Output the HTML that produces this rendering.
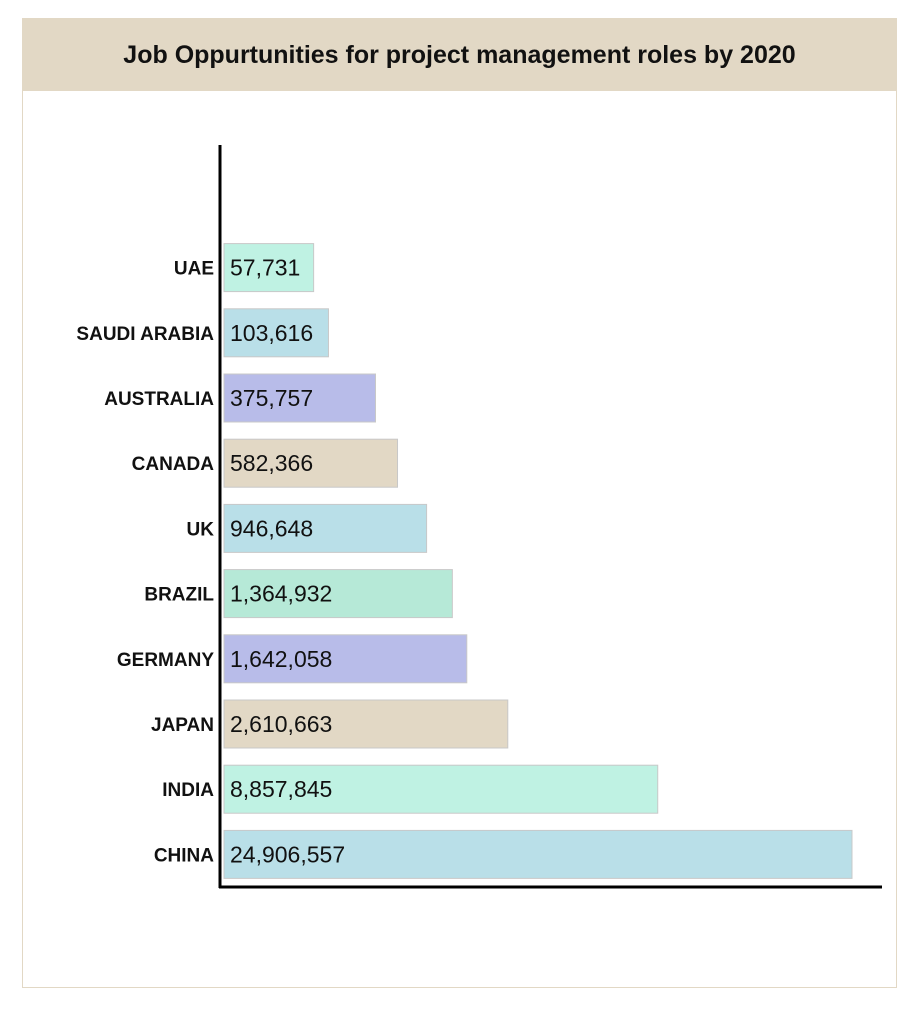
<!DOCTYPE html>
<html><head><meta charset="utf-8"><style>
body{margin:0;background:#fff;font-family:"Liberation Sans",sans-serif}
#card{position:absolute;left:22px;top:18px;width:875px;height:970px;border:1.5px solid #e2d8c5;box-sizing:border-box}
#hdr{position:absolute;left:0;top:0;right:0;height:72px;background:#e2d8c5;display:flex;align-items:center;justify-content:center;font-weight:bold;font-size:25px;color:#111}
</style></head><body>
<div id="card">
<div id="hdr">Job Oppurtunities for project management roles by 2020</div>
</div>
<svg id="chart" width="921" height="1024" style="position:absolute;left:0;top:0"></svg>
<script>
const categories=["UAE","SAUDI ARABIA","AUSTRALIA","CANADA","UK","BRAZIL","GERMANY","JAPAN","INDIA","CHINA"];
const values=[57731,103616,375757,582366,946648,1364932,1642058,2610663,8857845,24906557];
const valueLabels=["57,731","103,616","375,757","582,366","946,648","1,364,932","1,642,058","2,610,663","8,857,845","24,906,557"];
const colors=["#bff2e3","#b9dfe8","#b8bce9","#e2d8c5","#b9dfe8","#b6e9d7","#b8bce9","#e2d8c5","#bff2e3","#b9dfe8"];
const NS="http://www.w3.org/2000/svg";
const svg=document.getElementById("chart");
const x0=224,maxW=628,minW=30,maxV=Math.max(...values),p=0.38;
function xScale(v){return minW+(maxW-minW)*Math.pow(v/maxV,p);}
const yTop=235,step=65.2,bh=48;
function yScale(i){return yTop+i*step+(step-bh)/2;}
function mk(t,a){const e=document.createElementNS(NS,t);for(const k in a)e.setAttribute(k,a[k]);svg.appendChild(e);return e;}
categories.forEach((c,i)=>{
  const y=yScale(i);
  const r=mk("rect",{x:x0,y:y,width:xScale(values[i]),height:bh,fill:colors[i],stroke:"#c8c8c8","stroke-width":1});
  
  
  const t=mk("text",{x:x0+6,y:y+bh/2+8,"font-size":23,fill:"#111"});
  t.textContent=valueLabels[i];
  
  
  const l=mk("text",{x:214,y:y+bh/2+7,"font-size":19,"font-weight":"bold","text-anchor":"end",fill:"#111"});
  l.textContent=c;
  
  
});
const ya=mk("line",{x1:220,y1:145,x2:220,y2:888,stroke:"#000","stroke-width":3});


const xa=mk("line",{x1:219,y1:887,x2:882,y2:887,stroke:"#000","stroke-width":3});


</script>
</body></html>
